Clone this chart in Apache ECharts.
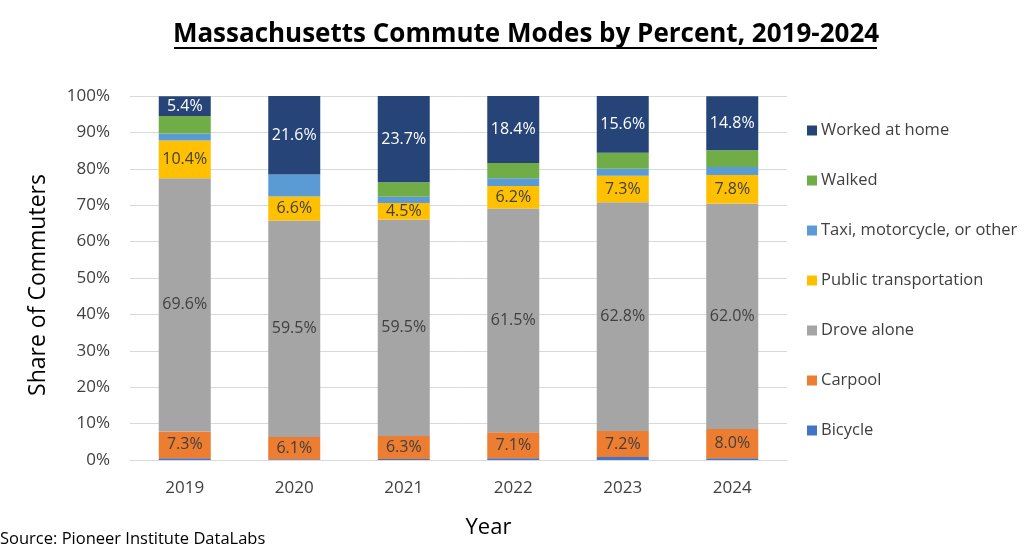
<!DOCTYPE html>
<html>
<head>
<meta charset="utf-8">
<script src="https://cdn.jsdelivr.net/npm/echarts@6/dist/echarts.min.js"></script>
<style>
  html, body { margin: 0; padding: 0; background: #fff; }
  #chart { width: 1024px; height: 555px; }
</style>
</head>
<body>
<div id="chart"></div>
<script>
var myChart = echarts.init(document.getElementById('chart'));

// data (percent of commuters)
var years = ['2019', '2020', '2021', '2022', '2023', '2024'];
var bicycle  = [0.5, 0.2, 0.3, 0.5, 0.8, 0.5];
var carpool  = [7.3, 6.1, 6.3, 7.1, 7.2, 8.0];
var droveAlone = [69.6, 59.5, 59.5, 61.5, 62.8, 62.0];
var publicTransit = [10.4, 6.6, 4.5, 6.2, 7.3, 7.8];
var taxiOther = [1.9, 6.0, 1.7, 2.1, 1.9, 2.2];
var walked   = [4.8, 0.0, 4.0, 4.2, 4.4, 4.6];
var workedHome = [5.4, 21.6, 23.7, 18.4, 15.6, 14.8];

var yTicks = [0, 10, 20, 30, 40, 50, 60, 70, 80, 90, 100];

var font = "'Open Sans', 'Noto Sans', sans-serif";
var textColor = '#404040';

// name, values, colour, show label, label colour
var seriesDefs = [
    ['Bicycle', bicycle, '#4472C4', false, textColor],
    ['Carpool', carpool, '#ED7D31', true, textColor],
    ['Drove alone', droveAlone, '#A5A5A5', true, textColor],
    ['Public transportation', publicTransit, '#FFC000', true, textColor],
    ['Taxi, motorcycle, or other', taxiOther, '#5B9BD5', false, textColor],
    ['Walked', walked, '#70AD47', false, textColor],
    ['Worked at home', workedHome, '#264478', true, '#ffffff']
];

var series = seriesDefs.map(function (d) {
    return {
        name: d[0],
        type: 'bar',
        stack: 'total',
        barWidth: 52,
        data: d[1],
        itemStyle: { color: d[2] },
        label: {
            show: d[3],
            position: 'inside',
            color: d[4],
            fontFamily: font,
            fontSize: 16,
            formatter: function (p) { return p.value.toFixed(1) + '%'; }
        },
        emphasis: { disabled: true }
    };
});

var option = {
    animation: false,
    backgroundColor: '#ffffff',
    title: {
        text: 'Massachusetts Commute Modes by Percent, 2019-2024',
        left: 521,
        textAlign: 'center',
        top: 17,
        textStyle: {
            color: '#000000',
            fontFamily: font,
            fontWeight: 'bold',
            fontSize: 26
        }
    },
    graphic: [
        {
            type: 'line',
            shape: { x1: 174, y1: 48, x2: 877, y2: 48 },
            style: { stroke: '#000000', lineWidth: 2 }
        },
        {
            type: 'text',
            left: 0,
            top: 531,
            style: {
                text: 'Source: Pioneer Institute DataLabs',
                fill: '#000000',
                font: '16.5px ' + font
            }
        }
    ],
    legend: {
        orient: 'vertical',
        left: 802,
        top: 117,
        itemWidth: 10,
        itemHeight: 10,
        itemGap: 33,
        icon: 'rect',
        selectedMode: false,
        data: seriesDefs.map(function (d) { return d[0]; }).reverse(),
        textStyle: { color: textColor, fontFamily: font, fontSize: 16.5, padding: [0, 0, 0, -1] }
    },
    grid: {
        left: 130,
        right: 237,
        top: 96,
        bottom: 95
    },
    xAxis: {
        type: 'category',
        data: years,
        name: 'Year',
        nameLocation: 'middle',
        nameGap: 57,
        nameTextStyle: { color: '#000000', fontFamily: font, fontSize: 22, padding: [0, 0, 0, 60] },
        axisLine: { lineStyle: { color: '#d9d9d9' } },
        axisTick: { show: false },
        axisLabel: { color: textColor, fontFamily: font, fontSize: 17, margin: 20 }
    },
    yAxis: {
        type: 'value',
        min: yTicks[0],
        max: yTicks[yTicks.length - 1],
        interval: 10,
        name: 'Share of Commuters',
        nameLocation: 'middle',
        nameGap: 80,
        nameTextStyle: { color: '#000000', fontFamily: font, fontSize: 23, padding: [0, 14, 0, 0] },
        axisLine: { show: false },
        axisTick: { show: false },
        splitLine: { lineStyle: { color: '#d9d9d9' } },
        axisLabel: {
            color: textColor,
            fontFamily: font,
            fontSize: 17,
            margin: 20,
            formatter: '{value}%'
        }
    },
    series: series
};

myChart.setOption(option);
</script>
</body>
</html>
